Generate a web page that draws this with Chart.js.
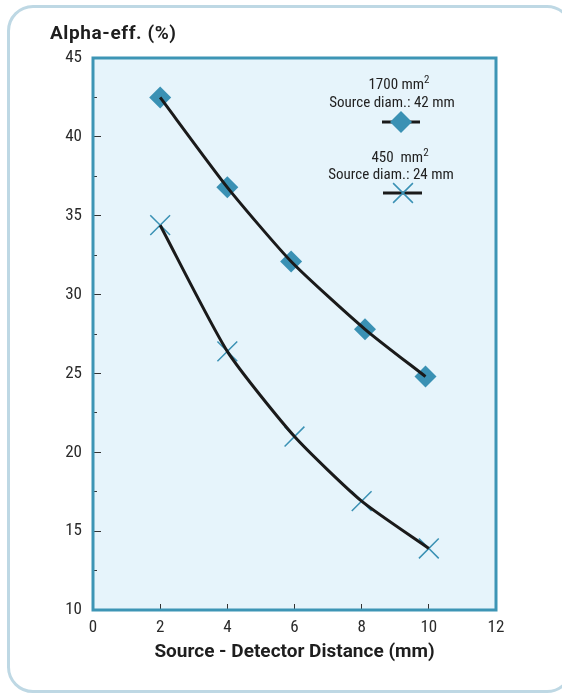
<!DOCTYPE html>
<html>
<head>
<meta charset="utf-8">
<script src="https://cdn.jsdelivr.net/npm/chart.js@4/dist/chart.umd.min.js"></script>
<style>
  body { margin: 0; background: #fff; }
  #wrap { position: relative; width: 562px; height: 694px; overflow: hidden; }
  #frame {
    position: absolute; left: 7px; top: 5px; width: 560px; height: 682px;
    border: 3px solid #bed8e4; border-radius: 26px;
  }
  #chart { position: absolute; left: 0; top: 0; }
</style>
</head>
<body>
<div id="wrap">
  <div id="frame"></div>
  <canvas id="chart" width="562" height="694"></canvas>
</div>
<script>
// DATA
const distLarge = [2, 4, 5.9, 8.1, 9.9];
const effLarge = [42.5, 36.8, 32.1, 27.8, 24.8];   // 1700 mm2, 42 mm
const distSmall = [2, 4, 6, 8, 10];
const effSmall = [34.4, 26.4, 21.0, 16.9, 13.9];   // 450 mm2, 24 mm
const xTicks = [0, 2, 4, 6, 8, 10, 12];
const yTicks = [10, 15, 20, 25, 30, 35, 40, 45];

const FONT = '"Liberation Sans Narrow", "Roboto Condensed", "Liberation Sans", Arial, sans-serif';
const BOLD = 'Roboto, "Liberation Sans", Arial, sans-serif';
const BLUE = "#3a91b4";

const pts = (xs, ys) => xs.map((x, i) => ({ x: x, y: ys[i] }));

// plot background, border, title and legend
const decor = {
  id: "decor",
  beforeDraw(chart) {
    const { ctx, chartArea: a } = chart;
    ctx.save();
    ctx.fillStyle = "#e6f4fb";
    ctx.fillRect(a.left, a.top, a.right - a.left, a.bottom - a.top);
    ctx.restore();
  },
  afterDraw(chart) {
    const { ctx, chartArea: a } = chart;
    ctx.save();
    ctx.strokeStyle = "#3d95b5";
    ctx.lineWidth = 3;
    ctx.strokeRect(a.left, a.top, a.right - a.left, a.bottom - a.top);

    // y title
    ctx.fillStyle = "#1e1e1e";
    ctx.font = "bold 19px " + BOLD;
    ctx.letterSpacing = "0.6px";
    ctx.textAlign = "left";
    ctx.textBaseline = "alphabetic";
    ctx.fillText("Alpha-eff. (%)", 50, 39);
    ctx.letterSpacing = "0px";

    // legend
    const L = a.left, T = a.top;
    ctx.fillStyle = "#222";
    ctx.textAlign = "center";
    const sup = (txt, cx, y) => {
      ctx.font = "15px " + FONT;
      const w = ctx.measureText(txt).width;
      ctx.font = "11px " + FONT;
      const w2 = ctx.measureText("2").width;
      const x0 = cx - (w + w2) / 2;
      ctx.textAlign = "left";
      ctx.font = "15px " + FONT;
      ctx.fillText(txt, x0, y);
      ctx.font = "11px " + FONT;
      ctx.fillText("2", x0 + w, y - 6);
      ctx.textAlign = "center";
    };
    sup("1700 mm", L + 306, T + 31);
    ctx.font = "15px " + FONT;
    ctx.fillText("Source diam.: 42 mm", L + 299, T + 49);
    sup("450  mm", L + 307, T + 104);
    ctx.font = "15px " + FONT;
    ctx.fillText("Source diam.: 24 mm", L + 298, T + 121);

    ctx.strokeStyle = "#1a1a1a";
    ctx.lineWidth = 3;
    ctx.beginPath();
    ctx.moveTo(L + 289, T + 64); ctx.lineTo(L + 327, T + 64);
    ctx.moveTo(L + 290, T + 135); ctx.lineTo(L + 329, T + 135);
    ctx.stroke();

    ctx.fillStyle = BLUE;
    ctx.strokeStyle = BLUE;
    Chart.helpers.drawPoint(ctx, { pointStyle: "rectRot", radius: 11, rotation: 0, borderWidth: 0 }, L + 308, T + 64);
    ctx.lineWidth = 1.5;
    Chart.helpers.drawPoint(ctx, { pointStyle: "crossRot", radius: 14, rotation: 0, borderWidth: 1.5 }, L + 310, T + 135);
    ctx.restore();
  }
};

new Chart(document.getElementById("chart"), {
  type: "scatter",
  data: {
    datasets: [
      {
        // lines on top of the markers
        data: pts(distLarge, effLarge),
        showLine: true,
        borderColor: "#1a1a1a",
        borderWidth: 3,
        tension: 0.2,
        pointRadius: 0,
        order: 0
      },
      {
        data: pts(distSmall, effSmall),
        showLine: true,
        borderColor: "#1a1a1a",
        borderWidth: 3,
        tension: 0.2,
        pointRadius: 0,
        order: 0
      },
      {
        data: pts(distLarge, effLarge),
        pointStyle: "rectRot",
        pointRadius: 11,
        pointBackgroundColor: BLUE,
        pointBorderColor: BLUE,
        pointBorderWidth: 0,
        order: 1
      },
      {
        data: pts(distSmall, effSmall),
        pointStyle: "crossRot",
        pointRadius: 14,
        pointBorderColor: BLUE,
        pointBorderWidth: 1.5,
        order: 1
      }
    ]
  },
  options: {
    responsive: false,
    animation: false,
    layout: { padding: { top: 58, right: 66, bottom: 0, left: 0 } },
    plugins: {
      legend: { display: false },
      tooltip: { enabled: false }
    },
    scales: {
      x: {
        type: "linear",
        min: xTicks[0],
        max: xTicks[xTicks.length - 1],
        afterBuildTicks: s => { s.ticks = xTicks.map(v => ({ value: v })); },
        afterFit: s => { s.height = 84; },
        ticks: { color: "#2a2a2a", font: { family: FONT, size: 17 }, padding: 14 },
        grid: { drawOnChartArea: false, tickLength: -6, tickColor: "#333", tickWidth: 1 },
        border: { display: false },
        title: {
          display: true,
          text: "Source - Detector Distance (mm)",
          color: "#1e1e1e",
          font: { family: BOLD, size: 19, weight: "bold" },
          padding: { top: 0, bottom: 30 }
        }
      },
      y: {
        type: "linear",
        position: "left",
        weight: 1,
        min: yTicks[0],
        max: yTicks[yTicks.length - 1],
        afterBuildTicks: s => { s.ticks = yTicks.map(v => ({ value: v })); },
        afterFit: s => { s.width = 93; },
        ticks: { color: "#2a2a2a", font: { family: FONT, size: 17 }, padding: 19 },
        grid: { drawOnChartArea: false, tickLength: -8, tickColor: "#333", tickWidth: 1 },
        border: { display: false }
      },
      yMinor: {
        type: "linear",
        position: "left",
        weight: 0,
        min: yTicks[0],
        max: yTicks[yTicks.length - 1],
        ticks: { display: false, stepSize: 2.5 },
        afterFit: s => { s.width = 0; },
        grid: { drawOnChartArea: false, tickLength: -4, tickColor: "#333", tickWidth: 1 },
        border: { display: false }
      }
    }
  },
  plugins: [decor]
});
</script>
</body>
</html>
